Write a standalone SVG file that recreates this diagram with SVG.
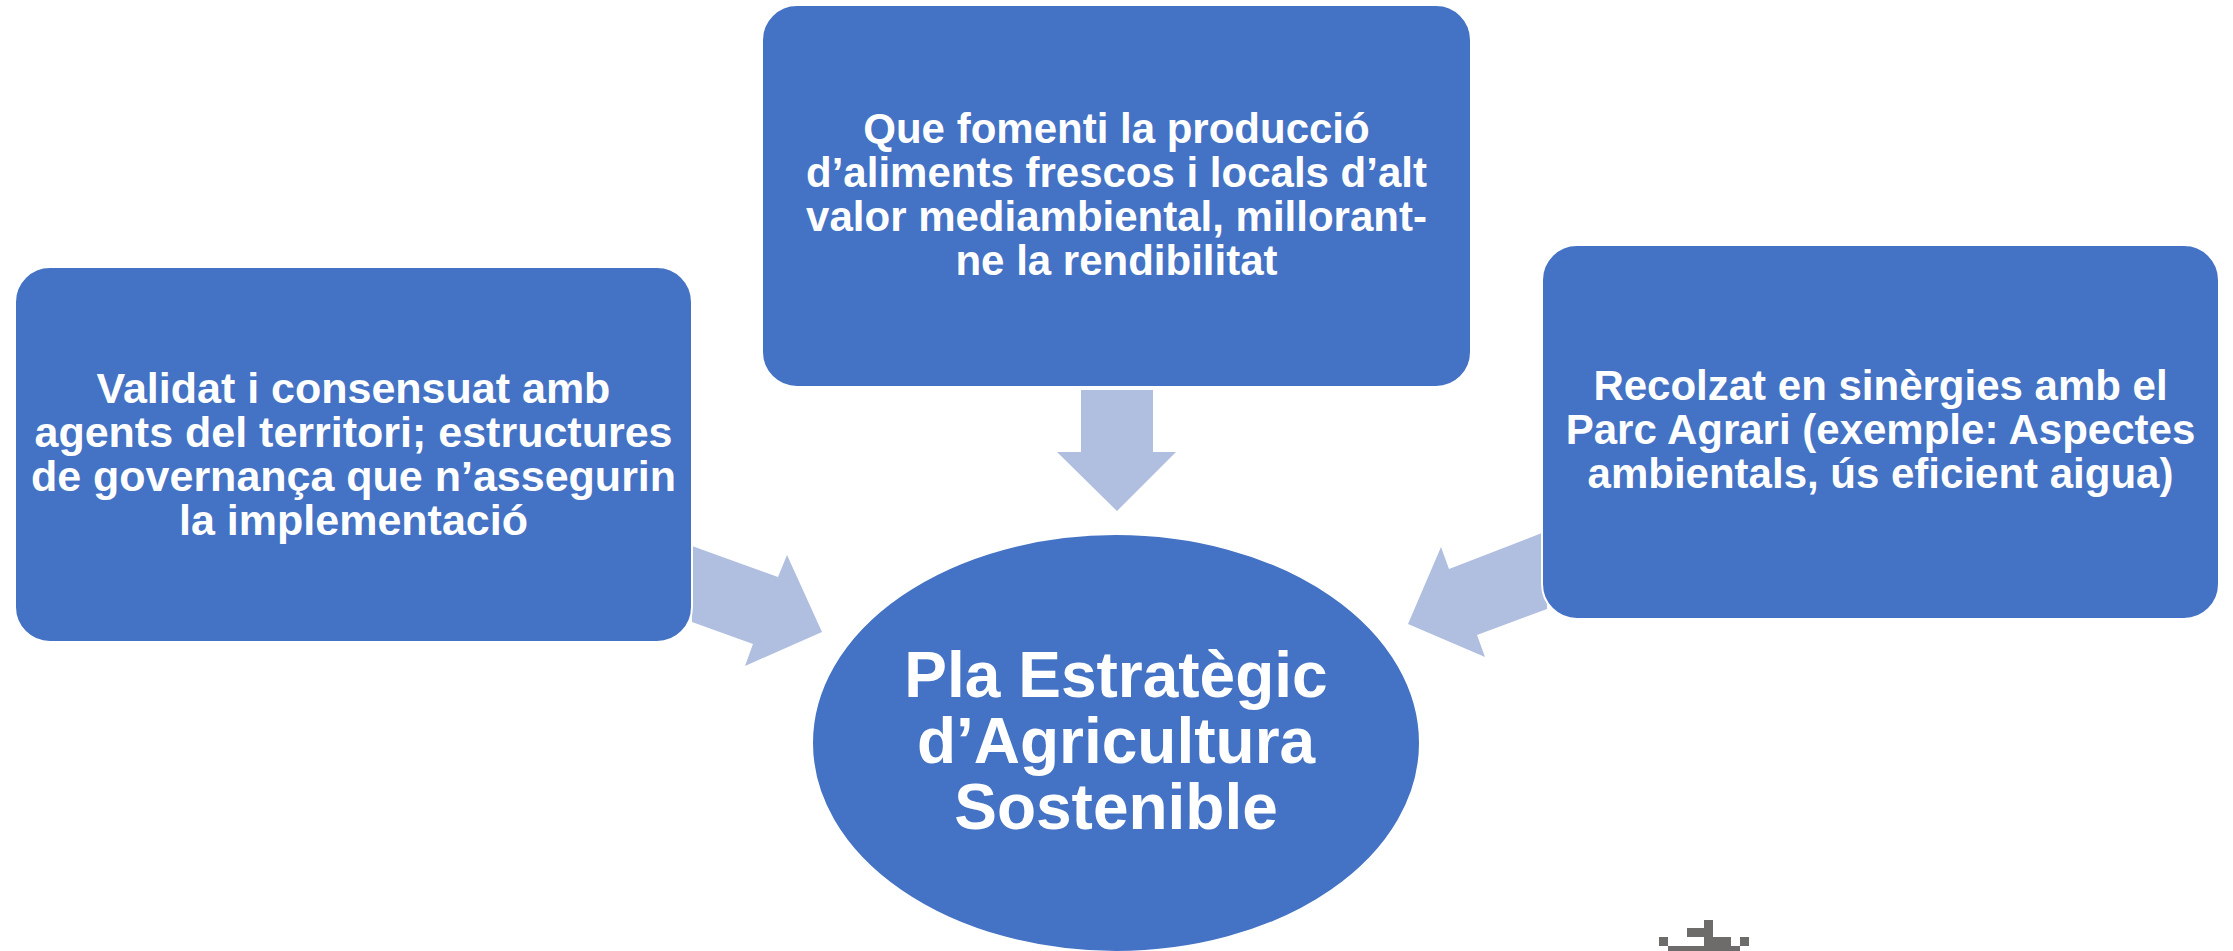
<svg xmlns="http://www.w3.org/2000/svg" width="2233" height="951" viewBox="0 0 2233 951">
<style>
.box{fill:#4472C4;stroke:#FFFFFF;stroke-width:2}
.arr{fill:#B0BEE0}
.t{font-family:"Liberation Sans",Arial,sans-serif;font-weight:bold;fill:#FFFFFF;text-anchor:middle}
.s{font-size:42px}
.sl{font-size:43px}
.b{font-size:64px}
.ic{fill:#6E6B6B}
</style>
<rect width="2233" height="951" fill="#FFFFFF"/>
<g id="connectors">
<polygon class="arr" points="692,546 778,577 787,555 822,632 745,666 753,644 692,622"/>
<polygon class="arr" points="1081,390 1153,390 1153,452 1176,452 1117,511 1057,452 1081,452"/>
<polygon class="arr" points="1547,531 1449,569 1441,547 1408,624 1485,657 1477,635 1547,609"/>
</g>
<g id="node-left">
<rect class="box" x="15" y="267" width="677" height="375" rx="35" ry="35"/>
<text class="t sl" x="353.5" y="403">Validat i consensuat amb</text>
<text class="t sl" x="353.5" y="447">agents del territori; estructures</text>
<text class="t sl" x="353.5" y="491">de governança que n’assegurin</text>
<text class="t sl" x="353.5" y="535">la implementació</text>
</g>
<g id="node-top">
<rect class="box" x="762" y="5" width="709" height="382" rx="35" ry="35"/>
<text class="t s" x="1116.5" y="143">Que fomenti la producció</text>
<text class="t s" x="1116.5" y="187">d’aliments frescos i locals d’alt</text>
<text class="t s" x="1116.5" y="231">valor mediambiental, millorant-</text>
<text class="t s" x="1116.5" y="275">ne la rendibilitat</text>
</g>
<g id="node-right">
<rect class="box" x="1542" y="245" width="677" height="374" rx="35" ry="35"/>
<text class="t s" x="1880.5" y="400">Recolzat en sinèrgies amb el</text>
<text class="t s" x="1880.5" y="444">Parc Agrari (exemple: Aspectes</text>
<text class="t s" x="1880.5" y="488">ambientals, ús eficient aigua)</text>
</g>
<g id="node-center">
<ellipse class="box" cx="1116" cy="743" rx="304" ry="209"/>
<text class="t b" x="1116" y="697">Pla Estratègic</text>
<text class="t b" x="1116" y="763">d’Agricultura</text>
<text class="t b" x="1116" y="829">Sostenible</text>
</g>
<g id="icon">
<rect class="ic" x="1704" y="920" width="9" height="8"/>
<rect class="ic" x="1687" y="928" width="17" height="9"/>
<rect class="ic" x="1659" y="937" width="9" height="9"/>
<rect class="ic" x="1704" y="928" width="9" height="9"/>
<rect class="ic" x="1704" y="937" width="27" height="9"/>
<rect class="ic" x="1740" y="937" width="9" height="9"/>
<rect class="ic" x="1668" y="946" width="72" height="5"/>
</g>
</svg>
